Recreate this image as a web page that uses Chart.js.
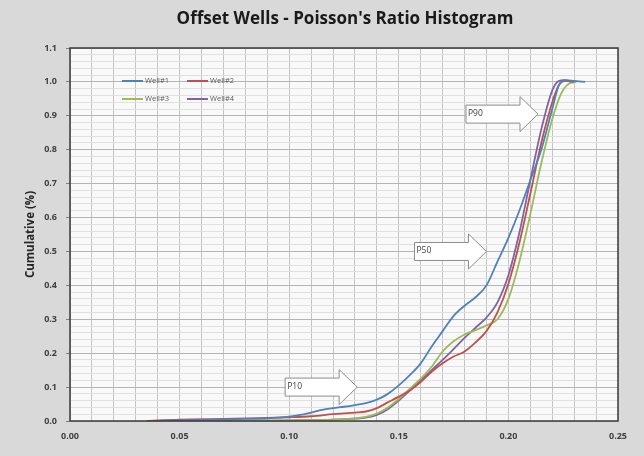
<!DOCTYPE html>
<html>
<head>
<meta charset="utf-8">
<script src="https://cdn.jsdelivr.net/npm/chart.js@4.4.1/dist/chart.umd.min.js"></script>
<style>
  html, body { margin: 0; padding: 0; background: #d9d9d9; }
  #wrap { width: 644px; height: 456px; }
</style>
</head>
<body>
<div id="wrap"><canvas id="c" width="644" height="456"></canvas></div>
<script>
// Poisson's ratio values and cumulative fractions, one pair of arrays per well
const well1X = [0.040, 0.060, 0.080, 0.090, 0.100, 0.105, 0.110, 0.115, 0.120, 0.125, 0.130, 0.135, 0.140, 0.145, 0.150, 0.155, 0.160, 0.165, 0.170, 0.175, 0.180, 0.185, 0.190, 0.195, 0.200, 0.205, 0.210, 0.215, 0.220, 0.223, 0.226, 0.230, 0.235];
const well1Y = [0.000, 0.003, 0.006, 0.008, 0.013, 0.018, 0.025, 0.033, 0.038, 0.042, 0.047, 0.053, 0.063, 0.080, 0.105, 0.135, 0.170, 0.220, 0.265, 0.310, 0.340, 0.365, 0.400, 0.470, 0.540, 0.620, 0.710, 0.800, 0.920, 0.990, 1.005, 1.003, 1.000];

const well2X = [0.035, 0.050, 0.070, 0.090, 0.100, 0.110, 0.120, 0.130, 0.135, 0.140, 0.145, 0.150, 0.155, 0.160, 0.165, 0.170, 0.175, 0.180, 0.185, 0.190, 0.195, 0.200, 0.205, 0.210, 0.215, 0.220, 0.223, 0.226, 0.230];
const well2Y = [0.000, 0.004, 0.006, 0.009, 0.011, 0.014, 0.020, 0.025, 0.028, 0.038, 0.055, 0.072, 0.090, 0.115, 0.145, 0.170, 0.190, 0.205, 0.232, 0.265, 0.320, 0.405, 0.525, 0.670, 0.820, 0.940, 0.990, 1.003, 1.000];

const well3X = [0.060, 0.100, 0.120, 0.130, 0.135, 0.140, 0.145, 0.150, 0.155, 0.160, 0.165, 0.170, 0.175, 0.180, 0.185, 0.190, 0.195, 0.200, 0.205, 0.210, 0.215, 0.220, 0.224, 0.227, 0.231];
const well3Y = [0.000, 0.002, 0.004, 0.008, 0.012, 0.022, 0.040, 0.065, 0.095, 0.125, 0.160, 0.205, 0.235, 0.255, 0.268, 0.282, 0.300, 0.360, 0.470, 0.610, 0.760, 0.890, 0.965, 0.992, 1.000];

const well4X = [0.070, 0.100, 0.120, 0.130, 0.135, 0.140, 0.145, 0.150, 0.155, 0.160, 0.165, 0.170, 0.175, 0.180, 0.185, 0.190, 0.195, 0.200, 0.205, 0.210, 0.215, 0.220, 0.222, 0.225, 0.230];
const well4Y = [0.000, 0.002, 0.004, 0.007, 0.010, 0.018, 0.035, 0.060, 0.090, 0.120, 0.150, 0.180, 0.212, 0.245, 0.275, 0.305, 0.350, 0.430, 0.555, 0.710, 0.860, 0.975, 0.998, 1.005, 1.000];

const wellNames = ['Well#1', 'Well#2', 'Well#3', 'Well#4'];
const wellColors = ['#4f81bd', '#c0504d', '#9bbb59', '#8064a2'];

// Percentile call-outs: label, and the point the arrow tip sits on
const calloutLabels = ['P10', 'P50', 'P90'];
const calloutX = [0.131, 0.190, 0.2135];
const calloutY = [0.10, 0.50, 0.905];

const xTickLabels = ['0.00', '0.05', '0.10', '0.15', '0.20', '0.25'];
const yTickLabels = ['0.0', '0.1', '0.2', '0.3', '0.4', '0.5', '0.6', '0.7', '0.8', '0.9', '1.0', '1.1'];

const chartTitle = "Offset Wells - Poisson's Ratio Histogram";
const yTitle = 'Cumulative (%)';

function pts(xs, ys) { return xs.map((x, i) => ({ x: x, y: ys[i] })); }
const seriesX = [well1X, well2X, well3X, well4X];
const seriesY = [well1Y, well2Y, well3Y, well4Y];

const datasets = wellNames.map((name, i) => ({
  label: name,
  data: pts(seriesX[i], seriesY[i]),
  borderColor: wellColors[i],
  backgroundColor: wellColors[i],
  borderWidth: 1.8,
  pointRadius: 0,
  showLine: true,
  tension: 0.35,
  cubicInterpolationMode: 'monotone'
}));

const FONT = '"Open Sans", "Liberation Sans", sans-serif';

const decorPlugin = {
  id: 'decor',
  beforeDraw(chart) {
    const { ctx, chartArea: a } = chart;
    ctx.save();
    ctx.fillStyle = '#d9d9d9';
    ctx.fillRect(0, 0, chart.width, chart.height);
    ctx.fillStyle = '#f9f9f9';
    ctx.fillRect(a.left, a.top, a.right - a.left, a.bottom - a.top);
    ctx.restore();
  },
  afterDraw(chart) {
    const { ctx, chartArea: a, scales } = chart;
    ctx.save();
    // frame
    ctx.strokeStyle = '#3a3a3a';
    ctx.lineWidth = 1.5;
    ctx.strokeRect(a.left, a.top, a.right - a.left, a.bottom - a.top);

    // title
    ctx.fillStyle = '#1a1a1a';
    ctx.font = 'bold 17px ' + FONT;
    ctx.textAlign = 'center';
    ctx.textBaseline = 'middle';
    ctx.fillText(chartTitle, 345, 19);

    // y axis title
    ctx.save();
    ctx.translate(31, (a.top + a.bottom) / 2);
    ctx.rotate(-Math.PI / 2);
    ctx.font = 'bold 11.5px ' + FONT;
    ctx.fillStyle = '#262626';
    ctx.fillText(yTitle, 0, 0);
    ctx.restore();

    // legend (inside plot area, two columns)
    ctx.font = '7.5px ' + FONT;
    ctx.textAlign = 'left';
    ctx.textBaseline = 'middle';
    const legX = [122, 187], legY = [81, 99];
    chart.data.datasets.forEach((ds, i) => {
      const lx = legX[i % 2], ly = legY[Math.floor(i / 2)];
      ctx.strokeStyle = ds.borderColor;
      ctx.lineWidth = 2;
      ctx.beginPath();
      ctx.moveTo(lx, ly);
      ctx.lineTo(lx + 21, ly);
      ctx.stroke();
      ctx.fillStyle = '#595959';
      ctx.fillText(ds.label, lx + 23, ly);
    });

    // block arrows
    calloutLabels.forEach((lab, i) => {
      const tx = scales.x.getPixelForValue(calloutX[i]);
      const ty = scales.y.getPixelForValue(calloutY[i]);
      const headLen = 18, bodyLen = 54, bodyH = 9, headH = 17.5;
      const hx = tx - headLen, bx = hx - bodyLen;
      ctx.beginPath();
      ctx.moveTo(bx, ty - bodyH);
      ctx.lineTo(hx, ty - bodyH);
      ctx.lineTo(hx, ty - headH);
      ctx.lineTo(tx, ty);
      ctx.lineTo(hx, ty + headH);
      ctx.lineTo(hx, ty + bodyH);
      ctx.lineTo(bx, ty + bodyH);
      ctx.closePath();
      ctx.fillStyle = '#ffffff';
      ctx.fill();
      ctx.strokeStyle = '#8c8c8c';
      ctx.lineWidth = 1;
      ctx.stroke();
      ctx.fillStyle = '#404040';
      ctx.font = '8.5px ' + FONT;
      ctx.textAlign = 'left';
      ctx.fillText(lab, bx + 2, ty - 1);
    });
    ctx.restore();
  }
};

new Chart(document.getElementById('c'), {
  type: 'scatter',
  data: { datasets },
  plugins: [decorPlugin],
  options: {
    responsive: false,
    animation: false,
    devicePixelRatio: 1,
    layout: { padding: { left: 0, right: 26, top: 48, bottom: 0 } },
    plugins: { legend: { display: false }, title: { display: false }, tooltip: { enabled: false } },
    scales: {
      x: {
        type: 'linear',
        min: 0, max: 0.25,
        afterFit(s) { s.height = 35; },
        afterBuildTicks(s) {
          const t = [];
          for (let k = 0; k <= 25; k++) t.push({ value: k / 100 });
          s.ticks = t;
        },
        ticks: {
          autoSkip: false,
          maxRotation: 0,
          padding: 10,
          color: '#404040',
          font: { family: FONT, size: 9, weight: 'bold' },
          callback(v) {
            const k = Math.round(v * 100);
            return k % 5 === 0 ? xTickLabels[k / 5] : '';
          }
        },
        grid: {
          color: '#c4c4c4',
          lineWidth: 1,
          drawTicks: false
        },
        border: { display: false }
      },
      y: {
        type: 'linear',
        min: 0, max: 1.1,
        afterFit(s) { s.width = 70; },
        afterBuildTicks(s) {
          const t = [];
          for (let k = 0; k <= 55; k++) t.push({ value: k / 50 });
          s.ticks = t;
        },
        ticks: {
          autoSkip: false,
          padding: 9,
          color: '#404040',
          font: { family: FONT, size: 9, weight: 'bold' },
          callback(v) {
            const k = Math.round(v * 50);
            return k % 5 === 0 ? yTickLabels[k / 5] : '';
          }
        },
        grid: {
          color(ctx) {
            const k = Math.round(ctx.tick.value * 50);
            return k % 5 === 0 ? '#b4b4b4' : '#e0e0e0';
          },
          tickColor(ctx) {
            const k = Math.round(ctx.tick.value * 50);
            return k % 5 === 0 ? '#808080' : 'rgba(0,0,0,0)';
          },
          tickLength: 4,
          lineWidth: 1
        },
        border: { display: false }
      }
    }
  }
});
</script>
</body>
</html>
